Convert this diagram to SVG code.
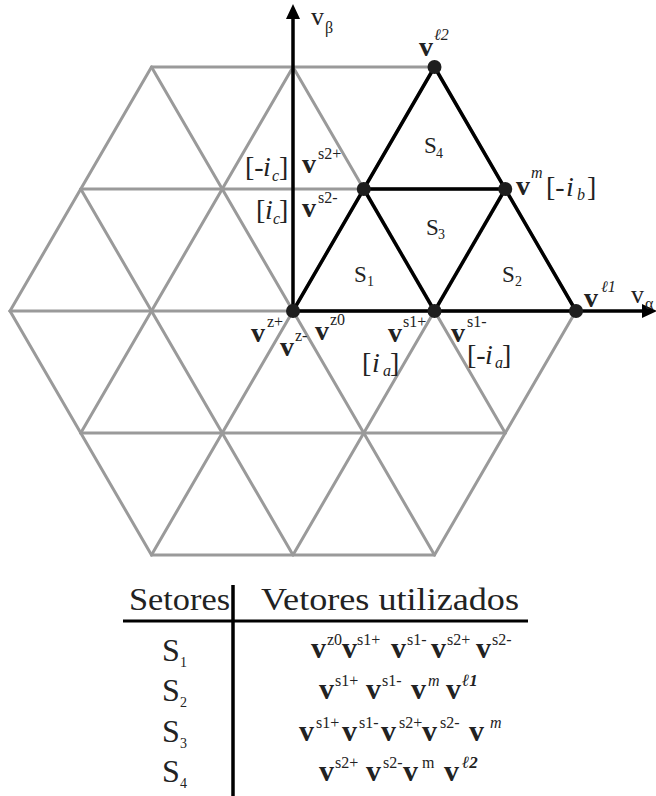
<svg xmlns="http://www.w3.org/2000/svg" width="656" height="796" viewBox="0 0 656 796">
<rect width="656" height="796" fill="#fff"/>
<g id="grid" stroke="#9a9a9a" stroke-width="3" fill="none" stroke-linecap="round">
<line x1="151.5" y1="67" x2="434.5" y2="67"/>
<line x1="80.75" y1="189" x2="505.25" y2="189"/>
<line x1="10" y1="311" x2="576" y2="311"/>
<line x1="80.75" y1="433" x2="505.25" y2="433"/>
<line x1="151.5" y1="555" x2="434.5" y2="555"/>
<line x1="10" y1="311" x2="151.5" y2="67"/>
<line x1="80.75" y1="433" x2="293" y2="67"/>
<line x1="151.5" y1="555" x2="434.5" y2="67"/>
<line x1="293" y1="555" x2="505.25" y2="189"/>
<line x1="434.5" y1="555" x2="576" y2="311"/>
<line x1="10" y1="311" x2="151.5" y2="555"/>
<line x1="80.75" y1="189" x2="293" y2="555"/>
<line x1="151.5" y1="67" x2="434.5" y2="555"/>
<line x1="293" y1="67" x2="505.25" y2="433"/>
<line x1="434.5" y1="67" x2="576" y2="311"/>
</g>
<g id="connectors" stroke="#000" stroke-width="3.5" fill="none" stroke-linejoin="round">
<polyline points="293,311 434.5,67 576,311"/>
<line x1="363.75" y1="189" x2="505.25" y2="189"/>
<line x1="363.75" y1="189" x2="434.5" y2="311"/>
<line x1="434.5" y1="311" x2="505.25" y2="189"/>
<line x1="293" y1="311" x2="293" y2="18"/>
<polygon points="286,19 300,19 293,4" fill="#000" stroke="none"/>
<line x1="293" y1="311" x2="644" y2="311"/>
<polygon points="642,304 642,318 657,311" fill="#000" stroke="none"/>
</g>
<g id="points" fill="#1e1e1e">
<circle cx="293" cy="311" r="7"/>
<circle cx="363.75" cy="189" r="7"/>
<circle cx="505.25" cy="189" r="7"/>
<circle cx="434.5" cy="67" r="7"/>
<circle cx="434.5" cy="311" r="7"/>
<circle cx="576" cy="311" r="7"/>
</g>
<g id="labels" fill="#222">
<text font-family="Liberation Serif" x="311" y="25" font-size="26">v</text><text font-family="Liberation Serif" x="325" y="33" font-size="16">&#946;</text>
<text font-family="Liberation Serif" x="631" y="303" font-size="26">v</text><text font-family="Liberation Serif" x="645" y="309" font-size="16">&#945;</text>
<g font-weight="bold" font-size="28">
<text font-family="Liberation Serif" x="419" y="56">v</text>
<text font-family="Liberation Serif" x="584" y="307">v</text>
<text font-family="Liberation Serif" x="516" y="195">v</text>
<text font-family="Liberation Serif" x="302" y="173">v</text>
<text font-family="Liberation Serif" x="302" y="217">v</text>
<text font-family="Liberation Serif" x="251" y="342">v</text>
<text font-family="Liberation Serif" x="280" y="356">v</text>
<text font-family="Liberation Serif" x="315" y="340">v</text>
<text font-family="Liberation Serif" x="388" y="342">v</text>
<text font-family="Liberation Serif" x="451" y="342">v</text>
</g>
<g font-size="16">
<text font-family="Liberation Serif" x="318" y="159">s2+</text>
<text font-family="Liberation Serif" x="318" y="203">s2-</text>
<text font-family="Liberation Serif" x="267" y="327">z+</text>
<text font-family="Liberation Serif" x="295" y="341">z-</text>
<text font-family="Liberation Serif" x="330" y="325">z0</text>
<text font-family="Liberation Serif" x="403" y="327">s1+</text>
<text font-family="Liberation Serif" x="467" y="327">s1-</text>
</g>
<g font-size="16" font-style="italic">
<text font-family="Liberation Serif" x="434" y="40">&#8467;2</text>
<text font-family="Liberation Serif" x="601" y="292">&#8467;1</text>
<text font-family="Liberation Serif" x="531" y="178">m</text>
<text font-family="Liberation Serif" x="577" y="200">b</text>
<text font-family="Liberation Serif" x="272" y="181">c</text>
<text font-family="Liberation Serif" x="273" y="224">c</text>
<text font-family="Liberation Serif" x="383" y="376">a</text>
<text font-family="Liberation Serif" x="495" y="368">a</text>
</g>
<g font-size="23">
<text font-family="Liberation Serif" x="424" y="153">S</text>
<text font-family="Liberation Serif" x="426" y="235">S</text>
<text font-family="Liberation Serif" x="354" y="282">S</text>
<text font-family="Liberation Serif" x="502" y="282">S</text>
</g>
<g font-size="14">
<text font-family="Liberation Serif" x="436" y="158">4</text>
<text font-family="Liberation Serif" x="438" y="239">3</text>
<text font-family="Liberation Serif" x="367" y="286">1</text>
<text font-family="Liberation Serif" x="515" y="286">2</text>
</g>
<g font-size="28">
<text font-family="Liberation Serif" x="546" y="196">[-</text><text font-family="Liberation Serif" x="587" y="196">]</text>
<text font-family="Liberation Serif" x="245" y="176">[-</text><text font-family="Liberation Serif" x="279" y="176">]</text>
<text font-family="Liberation Serif" x="256" y="219">[</text><text font-family="Liberation Serif" x="279" y="219">]</text>
<text font-family="Liberation Serif" x="362" y="372">[</text><text font-family="Liberation Serif" x="390" y="372">]</text>
<text font-family="Liberation Serif" x="467" y="364">[-</text><text font-family="Liberation Serif" x="502" y="364">]</text>
</g>
<g font-size="28" font-style="italic">
<text font-family="Liberation Serif" x="566" y="196">i</text>
<text font-family="Liberation Serif" x="263" y="176">i</text>
<text font-family="Liberation Serif" x="265" y="219">i</text>
<text font-family="Liberation Serif" x="372" y="372">i</text>
<text font-family="Liberation Serif" x="485" y="364">i</text>
</g>
</g>
<g id="table" fill="#222">
<text font-family="Liberation Serif" x="129" y="610" font-size="32" textLength="101" lengthAdjust="spacingAndGlyphs">Setores</text>
<text font-family="Liberation Serif" x="261" y="610" font-size="32" textLength="258" lengthAdjust="spacingAndGlyphs">Vetores utilizados</text>
<line x1="123" y1="621" x2="528" y2="621" stroke="#000" stroke-width="3"/>
<line x1="233" y1="585" x2="233" y2="796" stroke="#000" stroke-width="3.5"/>
<g font-size="32">
<text font-family="Liberation Serif" x="162" y="661">S</text>
<text font-family="Liberation Serif" x="162" y="701">S</text>
<text font-family="Liberation Serif" x="162" y="742">S</text>
<text font-family="Liberation Serif" x="162" y="782">S</text>
</g>
<g font-size="14">
<text font-family="Liberation Serif" x="180" y="667">1</text>
<text font-family="Liberation Serif" x="180" y="707">2</text>
<text font-family="Liberation Serif" x="180" y="748">3</text>
<text font-family="Liberation Serif" x="180" y="788">4</text>
</g>
<g font-weight="bold" font-size="30">
<text font-family="Liberation Serif" x="311" y="658">v</text><text font-family="Liberation Serif" x="342" y="658">v</text><text font-family="Liberation Serif" x="391" y="658">v</text><text font-family="Liberation Serif" x="431" y="658">v</text><text font-family="Liberation Serif" x="476" y="658">v</text>
<text font-family="Liberation Serif" x="319" y="699">v</text><text font-family="Liberation Serif" x="366" y="699">v</text><text font-family="Liberation Serif" x="411" y="699">v</text><text font-family="Liberation Serif" x="446" y="699">v</text>
<text font-family="Liberation Serif" x="299" y="741">v</text><text font-family="Liberation Serif" x="342" y="741">v</text><text font-family="Liberation Serif" x="381" y="741">v</text><text font-family="Liberation Serif" x="422" y="741">v</text><text font-family="Liberation Serif" x="469" y="741">v</text>
<text font-family="Liberation Serif" x="319" y="781">v</text><text font-family="Liberation Serif" x="366" y="781">v</text><text font-family="Liberation Serif" x="403" y="781">v</text><text font-family="Liberation Serif" x="444" y="781">v</text>
</g>
<g font-size="16">
<text font-family="Liberation Serif" x="327" y="645">z0</text><text font-family="Liberation Serif" x="357" y="645">s1+</text><text font-family="Liberation Serif" x="407" y="645">s1-</text><text font-family="Liberation Serif" x="447" y="645">s2+</text><text font-family="Liberation Serif" x="492" y="645">s2-</text>
<text font-family="Liberation Serif" x="335" y="686">s1+</text><text font-family="Liberation Serif" x="382" y="686">s1-</text>
<text font-family="Liberation Serif" x="316" y="728">s1+</text><text font-family="Liberation Serif" x="359" y="728">s1-</text><text font-family="Liberation Serif" x="399" y="728">s2+</text><text font-family="Liberation Serif" x="440" y="728">s2-</text>
<text font-family="Liberation Serif" x="335" y="768">s2+</text><text font-family="Liberation Serif" x="383" y="768">s2-</text><text font-family="Liberation Serif" x="422" y="768">m</text>
</g>
<g font-size="16" font-style="italic">
<text font-family="Liberation Serif" x="428" y="686">m</text>
<text font-family="Liberation Serif" x="490" y="728">m</text>
</g>
<g font-size="17" font-style="italic" font-weight="bold">
<text font-family="Liberation Serif" x="462" y="686">&#8467;1</text>
<text font-family="Liberation Serif" x="462" y="768">&#8467;2</text>
</g>
</g>
</svg>
